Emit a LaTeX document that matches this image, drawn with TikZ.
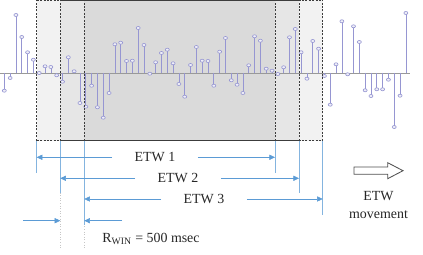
\documentclass[tikz,border=0pt]{standalone}
\usepackage{fontspec}
\setmainfont{Liberation Serif}
\usepackage{tikz}
\usetikzlibrary{
	arrows.meta,
	calc,
	positioning
}
\definecolor{StemPurple}{RGB}{150,150,210}
\definecolor{ArrowBlue}{RGB}{91,155,213}
\definecolor{EdgeGray}{RGB}{60,60,60}

\begin{document}
\begin{tikzpicture}[x=0.25mm, y=-0.25mm,
		every node/.style={font=\fontsize{9.9}{12.4}\selectfont, text=black!85},
		stem/.style={StemPurple, line width=0.5pt},
		stemmark/.style={draw=StemPurple, fill=StemPurple!15, line width=0.45pt},
		bluearrow/.style={ArrowBlue, line width=0.4pt, -{Triangle[length=1.4mm, width=1.3mm]}},
		extline/.style={ArrowBlue!75, line width=0.4pt},
		dotline/.style={gray!45, line width=0.4pt, dash pattern=on 0.25mm off 0.4mm},
		winedge/.style={EdgeGray, line width=0.7pt, dash pattern=on 0.5mm off 0.35mm},
		lbl/.style={inner xsep=5.6mm, inner ysep=0pt}]
		
		\useasboundingbox (0,0) rectangle (423,255);
		
		% 窗口下角
		\coordinate (L1) at (36.7,140.7);
		\coordinate (L2) at (60.3,140.7);
		\coordinate (L3) at (84.3,140.7);
		\coordinate (R1) at (275,140.7);
		\coordinate (R2) at (299,140.7);
		\coordinate (R3) at (322.7,140.7);
		
		\fill[black, fill opacity=0.05] (36.7,0.5) rectangle (R1);
		\fill[black, fill opacity=0.05] (60.3,0.5) rectangle (R2);
		\fill[black, fill opacity=0.05] (84.3,0.5) rectangle (R3);
		
		% 信号
		\draw[gray!80, line width=0.6pt] (0,73) -- (410,73);
		\foreach \v [count=\i from 0] in {-17.7, -5, 58, 36, 20.7, 13.3, 0, 6.7, 6, -2.3,
			-8.7, 15.7, 1.7, -30, -33.7, -12.7, -34.3, -44.7, -20, 28.7,
			30.3, 12, 12.3, 45, 28, -0.7, 10.7, 20, 23.3, 9.7,
			-11, -23.7, 8, 26, 12.3, 12, -12.7, 21.3, 35, -7.3,
			-11.7, -20, 7.7, 36.7, 32.3, 4.3, 2.3, -1, 5.7, 35.7,
			44, 20.7, -5.7, 32, 24.3, -3, -31.7, 8.7, 51.7, -1.3,
			46.7, 31, -17.3, -23, -16.3, -16.3, -6.7, -54, -22.7, 60} {
			\pgfmathsetmacro\xs{4.3+5.82*\i}
			\draw[stem] (\xs,73) -- (\xs,{73-(\v)});
			\filldraw[stemmark] (\xs,{73-(\v)}) ellipse [x radius=0.5mm, y radius=0.38mm];
		}
		
		% 窗口边
		\foreach \c in {L1,L2,L3,R1,R2,R3}
			\draw[winedge] (\c) -- (\c |- 0,0.5);
		\draw[winedge] (L1 |- 0,0.5) -- (R3 |- 0,0.5);
		\draw[winedge] (L1) -- (R3);
		\draw[EdgeGray, line width=0.8pt] (L2 |- 0,0.5) -- (R2 |- 0,0.5);
		\draw[EdgeGray, line width=0.8pt] (L2) -- (R2);
		
		% 延长线
		\draw[dotline] (L2) -- ++(0,107.3);
		\draw[dotline] (L3) -- ++(0,107.3);
		\draw[extline] (L1) -- ++(0,32.3);
		\draw[extline] (L2) -- ++(0,52.3);
		\draw[extline] (L3) -- ++(0,84.3);
		\draw[extline] (R1) -- ++(0,32.3);
		\draw[extline] (R2) -- ++(0,52.3);
		\draw[extline] (R3) -- ++(0,74.3);
		
		% 标签与箭头
		\node[lbl] (E1) at (155,157.3) {ETW 1};
		\node[lbl] (E2) at (178,178.3) {ETW 2};
		\node[lbl] (E3) at (204,199) {ETW 3};
		\draw[bluearrow] (E1.west) -- (E1.west -| L1);
		\draw[bluearrow] (E1.east) -- (E1.east -| R1);
		\draw[bluearrow] (E2.west) -- (E2.west -| L2);
		\draw[bluearrow] (E2.east) -- (E2.east -| R2);
		\draw[bluearrow] (E3.west) -- (E3.west -| L3);
		\draw[bluearrow] (E3.east) -- (E3.east -| R3);
		
		\coordinate (P0) at (23,220.7);
		\coordinate (P1) at (122,220.7);
		\draw[bluearrow] (P0) -- (P0 -| L2);
		\draw[bluearrow] (P1) -- (P1 -| L3);
		\node (RW) at (151,239) {R\textsubscript{WIN} = 500 msec};
		
		% 移动
		\draw[EdgeGray!90, line width=0.6pt, fill=white] (354,167) -- (387.7,167) -- (387.7,162.7)
			-- (403,170.7) -- (387.7,178.7) -- (387.7,174.3) -- (354,174.3) -- cycle;
		\node[align=center] (MV) at (378.5,205) {ETW\\movement};
	\end{tikzpicture}
\end{document}
